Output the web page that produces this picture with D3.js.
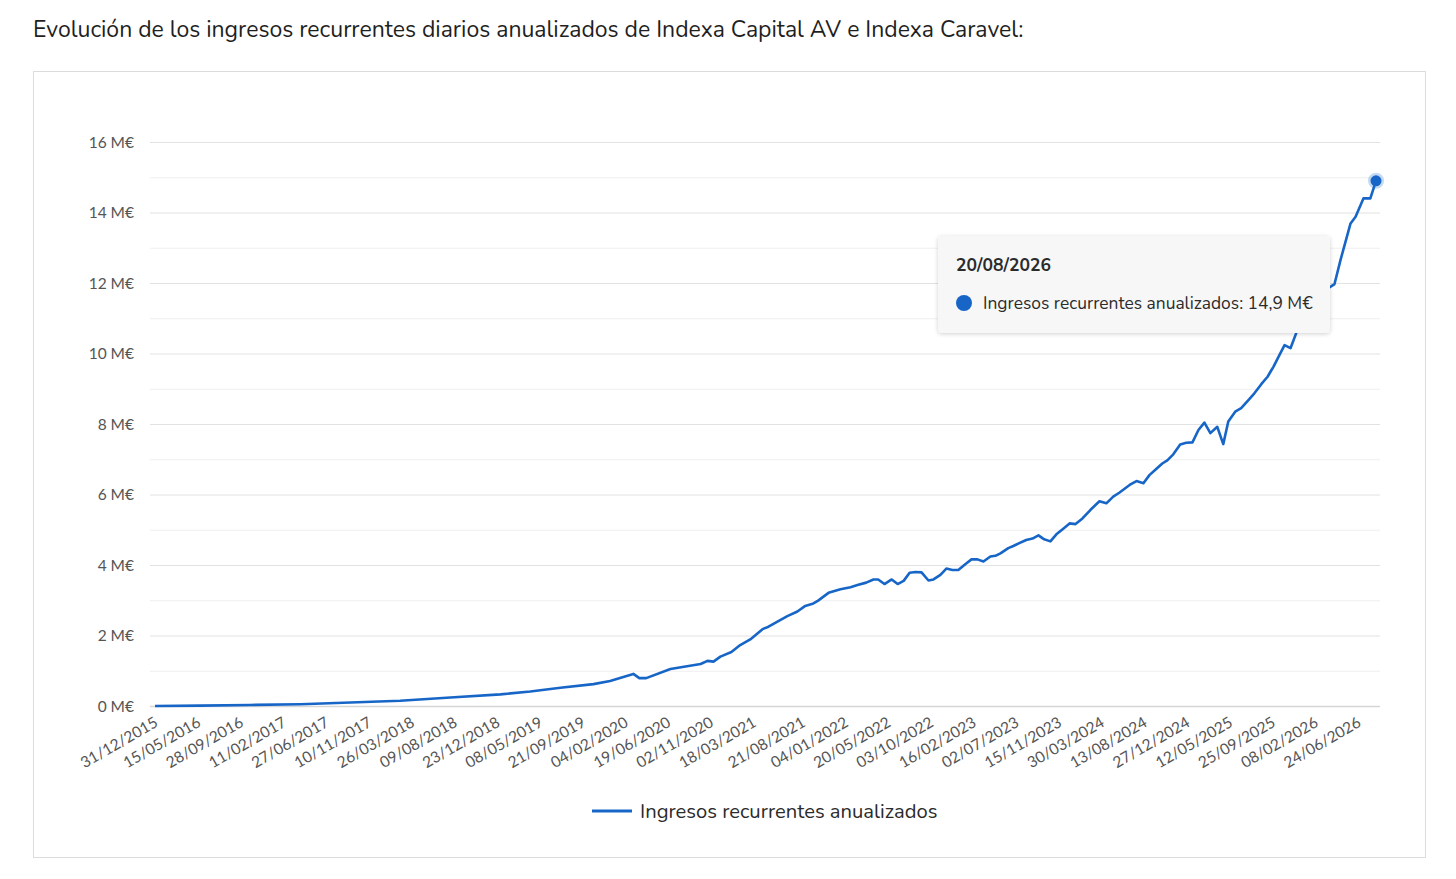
<!DOCTYPE html>
<html>
<head>
<meta charset="utf-8">
<script src="https://cdn.jsdelivr.net/npm/d3@7"></script>
<style>
  body { margin: 0; background: #fff; }
  .title { font-family: 'Nunito', 'Lato', sans-serif; font-size: 23px; fill: #1f1f1f; }
  .axis text { font-family: 'Lato', sans-serif; font-size: 15.5px; fill: #555; }
  .axis path, .axis line { display: none; }
  .legend, .tip { font-family: 'Nunito', 'Lato', sans-serif; fill: #2b2b2b; }
</style>
</head>
<body>
<svg id="svg" width="1456" height="879"></svg>
<script>

// data
const dates = ['2015-12-31','2016-05-23','2016-10-28','2017-04-06','2017-09-13','2018-02-18','2018-07-28','2019-01-03','2019-04-08','2019-07-13',
  '2019-10-26','2019-12-18','2020-03-01','2020-03-20','2020-04-11','2020-06-27','2020-10-01','2020-10-23','2020-11-11','2020-12-03',
  '2021-01-07','2021-02-04','2021-03-08','2021-04-16','2021-05-05','2021-07-04','2021-08-05','2021-08-30','2021-09-25','2021-10-10',
  '2021-11-12','2021-12-20','2022-01-21','2022-02-12','2022-03-12','2022-04-04','2022-04-19','2022-05-09','2022-06-01','2022-06-20',
  '2022-07-09','2022-07-28','2022-08-16','2022-09-04','2022-09-26','2022-10-12','2022-11-03','2022-11-22','2022-12-11','2022-12-30',
  '2023-01-22','2023-02-10','2023-03-01','2023-03-20','2023-04-11','2023-04-27','2023-05-13','2023-06-07','2023-06-23','2023-07-12',
  '2023-08-03','2023-08-23','2023-09-11','2023-09-27','2023-10-19','2023-11-07','2023-11-26','2023-12-19','2024-01-07','2024-01-29',
  '2024-02-23','2024-03-23','2024-04-14','2024-05-06','2024-05-25','2024-06-27','2024-07-19','2024-08-10','2024-08-29','2024-09-17',
  '2024-10-09','2024-10-25','2024-11-13','2024-12-05','2024-12-24','2025-01-13','2025-02-01','2025-02-20','2025-03-11','2025-04-02',
  '2025-04-21','2025-05-07','2025-05-29','2025-06-17','2025-07-10','2025-07-29','2025-08-20','2025-09-09','2025-09-28','2025-10-17',
  '2025-11-02','2025-11-21','2025-12-13','2026-01-23','2026-03-02','2026-03-21','2026-04-10','2026-04-29','2026-05-31','2026-06-16',
  '2026-07-11','2026-08-02','2026-08-20'];

const ingresos = [0.00,0.01,0.03,0.05,0.10,0.15,0.24,0.33,0.41,0.52,
  0.62,0.71,0.91,0.79,0.79,1.05,1.19,1.28,1.26,1.40,
  1.53,1.73,1.89,2.18,2.25,2.55,2.68,2.84,2.91,2.99,
  3.21,3.31,3.37,3.43,3.50,3.59,3.59,3.46,3.59,3.46,
  3.55,3.78,3.80,3.79,3.56,3.59,3.72,3.90,3.86,3.86,
  4.03,4.16,4.16,4.10,4.24,4.26,4.33,4.48,4.54,4.62,
  4.71,4.75,4.84,4.74,4.67,4.87,5.01,5.18,5.16,5.32,
  5.56,5.81,5.75,5.94,6.05,6.27,6.38,6.32,6.55,6.70,
  6.88,6.97,7.14,7.42,7.47,7.48,7.83,8.04,7.74,7.92,
  7.43,8.07,8.35,8.45,8.68,8.87,9.13,9.34,9.63,9.96,
  10.24,10.15,10.67,11.2,11.6,11.85,11.97,12.65,13.69,13.88,
  14.40,14.40,14.90];

const xTickLabels = ['31/12/2015','15/05/2016','28/09/2016','11/02/2017','27/06/2017','10/11/2017','26/03/2018','09/08/2018',
  '23/12/2018','08/05/2019','21/09/2019','04/02/2020','19/06/2020','02/11/2020','18/03/2021','21/08/2021','04/01/2022',
  '20/05/2022','03/10/2022','16/02/2023','02/07/2023','15/11/2023','30/03/2024','13/08/2024','27/12/2024','12/05/2025',
  '25/09/2025','08/02/2026','24/06/2026'];

const yTicks = [0, 2, 4, 6, 8, 10, 12, 14, 16];
const yMinor = [1, 3, 5, 7, 9, 11, 13, 15];

const seriesName = 'Ingresos recurrentes anualizados';
const color = '#1766c7';

const parseIso = d3.timeParse('%Y-%m-%d');
const parseEs = d3.timeParse('%d/%m/%Y');
const fmtEs = d3.timeFormat('%d/%m/%Y');

const data = dates.map((d, i) => ({ date: parseIso(d), value: ingresos[i] }));

const svg = d3.select('svg');

svg.append('text')
  .attr('class', 'title')
  .attr('x', 33)
  .attr('y', 37)
  .text('Evolución de los ingresos recurrentes diarios anualizados de Indexa Capital AV e Indexa Caravel:');

// card
svg.append('rect')
  .attr('x', 33.5).attr('y', 71.5)
  .attr('width', 1392).attr('height', 786)
  .attr('fill', '#fff')
  .attr('stroke', '#dcdcdc');

const plotLeft = 150, plotRight = 1380, plotTop = 142, plotBottom = 706;

const xScale = d3.scaleTime()
  .domain([data[0].date, data[data.length - 1].date])
  .range([155, 1376]);

const yScale = d3.scaleLinear()
  .domain([0, 16])
  .range([plotBottom, plotTop]);

// grid
svg.append('g')
  .selectAll('line')
  .data(yMinor)
  .enter()
  .append('line')
  .attr('x1', plotLeft).attr('x2', plotRight)
  .attr('y1', d => yScale(d) + 0.5).attr('y2', d => yScale(d) + 0.5)
  .attr('stroke', '#efefef');

svg.append('g')
  .selectAll('line')
  .data(yTicks)
  .enter()
  .append('line')
  .attr('x1', plotLeft).attr('x2', plotRight)
  .attr('y1', d => yScale(d) + 0.5).attr('y2', d => yScale(d) + 0.5)
  .attr('stroke', d => d === 0 ? '#d6d6d6' : '#e2e2e2')
  .attr('stroke-width', d => d === 0 ? 1.5 : 1);

// y axis
svg.append('g')
  .attr('class', 'axis')
  .attr('transform', `translate(${plotLeft - 16}, 0)`)
  .call(d3.axisLeft(yScale).tickValues(yTicks).tickSize(0).tickPadding(0)
    .tickFormat(d => d + ' M€'))
  .selectAll('text')
  .attr('dy', '0.35em');

// x axis
svg.append('g')
  .attr('class', 'axis')
  .attr('transform', `translate(0, ${plotBottom})`)
  .call(d3.axisBottom(xScale).tickValues(xTickLabels.map(parseEs)).tickSize(0)
    .tickFormat(fmtEs))
  .selectAll('text')
  .attr('text-anchor', 'end')
  .attr('dy', 0)
  .attr('transform', 'translate(2, 17) rotate(-30)');

// line
const line = d3.line()
  .x(d => xScale(d.date))
  .y(d => yScale(d.value));

svg.append('path')
  .datum(data)
  .attr('fill', 'none')
  .attr('stroke', color)
  .attr('stroke-width', 2.6)
  .attr('stroke-linejoin', 'round')
  .attr('d', line);

// highlighted last point
const last = data[data.length - 1];
svg.append('circle')
  .attr('cx', xScale(last.date)).attr('cy', yScale(last.value))
  .attr('r', 8).attr('fill', color).attr('opacity', 0.25);
svg.append('circle')
  .attr('cx', xScale(last.date)).attr('cy', yScale(last.value))
  .attr('r', 5.5).attr('fill', color);

// tooltip
const defs = svg.append('defs');
const f = defs.append('filter').attr('id', 'shadow').attr('x', '-10%').attr('y', '-20%').attr('width', '120%').attr('height', '150%');
f.append('feDropShadow').attr('dx', 0).attr('dy', 1).attr('stdDeviation', 2).attr('flood-color', '#000').attr('flood-opacity', 0.18);

const tip = svg.append('g').attr('transform', 'translate(938, 236)');
tip.append('rect')
  .attr('width', 392).attr('height', 97).attr('rx', 4)
  .attr('fill', '#f7f7f7')
  .attr('filter', 'url(#shadow)');
tip.append('text')
  .attr('class', 'tip')
  .attr('x', 18).attr('y', 35)
  .attr('font-size', 17.5).attr('font-weight', 'bold')
  .text(fmtEs(last.date));
tip.append('circle')
  .attr('cx', 26).attr('cy', 67).attr('r', 8).attr('fill', color);
tip.append('text')
  .attr('class', 'tip')
  .attr('x', 45).attr('y', 73)
  .attr('font-size', 17.4)
  .text(seriesName + ': ' + d3.format('.1f')(last.value).replace('.', ',') + ' M€');

// legend
svg.append('line')
  .attr('x1', 592).attr('x2', 632)
  .attr('y1', 811).attr('y2', 811)
  .attr('stroke', color).attr('stroke-width', 3);
svg.append('text')
  .attr('class', 'legend')
  .attr('x', 640).attr('y', 818)
  .attr('font-size', 20.2)
  .text(seriesName);

</script>
</body>
</html>
